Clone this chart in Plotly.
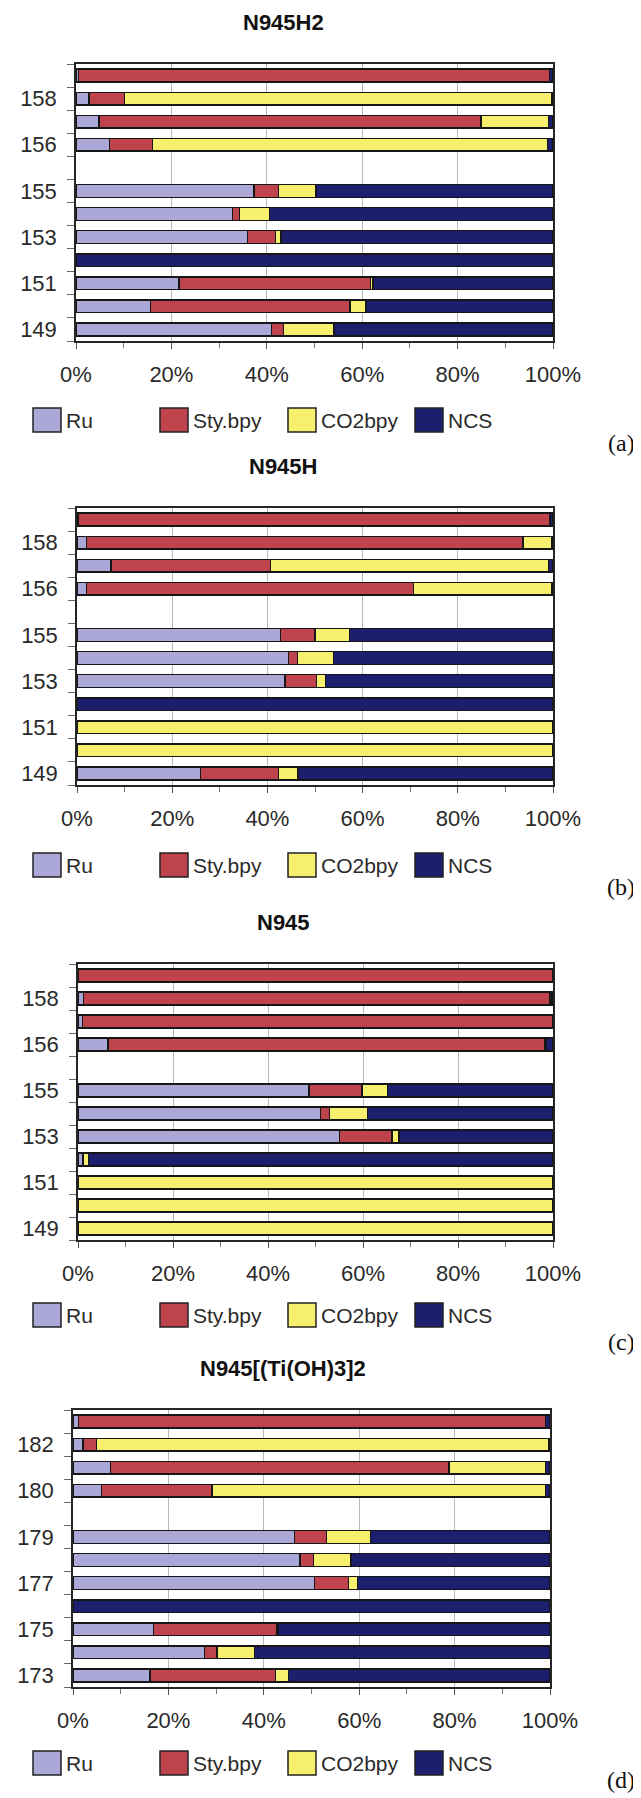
import plotly.graph_objects as go

W, H = 641, 1798
OFF = 8  # page body margin: the figure is drawn 8px right/down in the browser

series_names = ["Ru", "Sty.bpy", "CO2bpy", "NCS"]
series_colors = ["#ABA8D8", "#BE434C", "#F7F06E", "#1C1F6E"]

titles = ["N945H2", "N945H", "N945", "N945[(Ti(OH)3]2"]
panel_tags = ["(a)", "(b)", "(c)", "(d)"]

cats_abc = ["149", "150", "151", "152", "153", "154", "155", "", "156", "157", "158", "159"]
cats_d = ["173", "174", "175", "176", "177", "178", "179", "", "180", "181", "182", "183"]

# Panel (a) N945H2
a_ru = [41.0, 15.6, 21.6, 0, 35.9, 32.8, 37.3, None, 7.0, 4.8, 2.7, 0.5]
a_sty = [2.5, 41.8, 40.1, 0, 5.9, 1.5, 5.2, None, 9.0, 80.1, 7.5, 98.8]
a_co2 = [10.6, 3.4, 0.6, 0, 1.2, 6.3, 7.8, None, 82.8, 14.1, 89.5, 0]
a_ncs = [45.9, 39.2, 37.7, 100, 57.0, 59.4, 49.7, None, 1.2, 1.0, 0.3, 0.7]

# Panel (b) N945H
b_ru = [25.9, 0, 0, 0, 43.7, 44.4, 42.7, None, 2.0, 7.1, 2.0, 0.3]
b_sty = [16.4, 0, 0, 0, 6.6, 1.9, 7.3, None, 68.7, 33.6, 91.7, 99.1]
b_co2 = [4.1, 100, 100, 0, 1.9, 7.6, 7.2, None, 29.0, 58.3, 6.0, 0]
b_ncs = [53.6, 0, 0, 100, 47.8, 46.1, 42.8, None, 0.3, 1.0, 0.3, 0.6]

# Panel (c) N945
c_ru = [0, 0, 0, 0.9, 55.1, 51.0, 48.6, None, 6.3, 0.9, 1.2, 0]
c_sty = [0, 0, 0, 0.2, 11.0, 1.9, 11.2, None, 92.0, 99.1, 98.2, 100]
c_co2 = [100, 100, 100, 1.1, 1.5, 8.1, 5.4, None, 0.3, 0, 0.3, 0]
c_ncs = [0, 0, 0, 97.8, 32.4, 39.0, 34.8, None, 1.4, 0, 0.3, 0]

# Panel (d) N945[(Ti(OH)3]2
d_ru = [16.1, 27.6, 16.9, 0, 50.6, 47.6, 46.4, None, 6.0, 7.9, 2.1, 1.1]
d_sty = [26.3, 2.6, 25.8, 0, 7.2, 2.8, 6.7, None, 23.1, 70.9, 2.8, 98.0]
d_co2 = [2.8, 7.9, 0.3, 0, 1.8, 7.9, 9.3, None, 69.9, 20.2, 94.8, 0]
d_ncs = [54.8, 61.9, 57.0, 100, 40.4, 41.7, 37.6, None, 1.0, 1.0, 0.3, 0.9]

x_ticks = [0, 20, 40, 60, 80, 100]
x_tick_labels = ["0%", "20%", "40%", "60%", "80%", "100%"]

panels = [
    (cats_abc, [a_ru, a_sty, a_co2, a_ncs]),
    (cats_abc, [b_ru, b_sty, b_co2, b_ncs]),
    (cats_abc, [c_ru, c_sty, c_co2, c_ncs]),
    (cats_d, [d_ru, d_sty, d_co2, d_ncs]),
]

# layout geometry in screen pixels (left, right, top, bottom)
boxes = [(76, 553, 64, 341), (77, 553, 508, 785), (78, 553, 964, 1240), (73, 550, 1410, 1687)]
title_y = [23, 467, 922, 1368]
legend_y = [420, 865, 1315, 1763]
tag_y = [443, 887, 1342, 1780]
legend_x = [33, 160, 288, 415]

FONT = "Liberation Sans, Arial, sans-serif"


def px_x(v):
    return (v - OFF) / W


def px_y(v):
    return 1 - (v - OFF) / H


fig = go.Figure()
layout = dict(
    width=W, height=H, margin=dict(l=0, r=0, t=0, b=0, autoexpand=False),
    paper_bgcolor="white", plot_bgcolor="white",
    barmode="stack", barnorm="percent", bargap=0.45,
    showlegend=False, font=dict(family=FONT, color="#222", size=22),
)
annotations = []
shapes = []

for i, (cats, vals) in enumerate(panels):
    n = "" if i == 0 else str(i + 1)
    xa, ya = "x" + n, "y" + n
    idx = list(range(len(cats)))
    for name, col, v in zip(series_names, series_colors, vals):
        fig.add_trace(go.Bar(
            x=v, y=idx, orientation="h", name=name, xaxis=xa, yaxis=ya,
            marker=dict(color=col, line=dict(color="#161616", width=1.4)),
        ))
    l, r, t, b = boxes[i]
    layout["xaxis" + n] = dict(
        domain=[px_x(l), px_x(r)], anchor=ya, range=[0, 100], automargin=False,
        tickvals=x_ticks, ticktext=x_tick_labels, showgrid=True, gridcolor="#b8b8b8",
        gridwidth=1, showline=True, linecolor="#262626", linewidth=1.5, mirror=True,
        ticks="outside", ticklen=6, tickcolor="#555", zeroline=False,
        minor=dict(dtick=10, tick0=0, ticks="outside", ticklen=5, tickcolor="#777", showgrid=False),
        tickfont=dict(size=22, family=FONT, color="#2a2a2a"), ticklabelstandoff=7,
        fixedrange=True,
    )
    layout["yaxis" + n] = dict(
        domain=[px_y(b), px_y(t)], anchor=xa, range=[-0.5, len(cats) - 0.5], automargin=False,
        tickvals=idx[::2], ticktext=cats[::2], showgrid=False, zeroline=False,
        showline=True, linecolor="#262626", linewidth=1.5, mirror=True,
        ticks="", minor=dict(tick0=-0.5, dtick=1, ticks="outside", ticklen=7, tickcolor="#666"),
        tickfont=dict(size=22, family=FONT, color="#2a2a2a"), ticklabelstandoff=13,
        fixedrange=True,
    )
    annotations.append(dict(
        x=px_x(283), y=px_y(title_y[i]), xref="paper", yref="paper", text="<b>" + titles[i] + "</b>",
        showarrow=False, xanchor="center", yanchor="middle",
        font=dict(family=FONT, size=22, color="#111"),
    ))
    annotations.append(dict(
        x=px_x(637), y=px_y(tag_y[i]), xref="paper", yref="paper", text=panel_tags[i],
        showarrow=False, xanchor="right", yanchor="middle",
        font=dict(family="Liberation Serif, Times New Roman, serif", size=24, color="#111"),
    ))
    for j, (name, col) in enumerate(zip(series_names, series_colors)):
        x0 = legend_x[j]
        yc = legend_y[i]
        shapes.append(dict(
            type="rect", xref="paper", yref="paper",
            x0=px_x(x0), x1=px_x(x0 + 28), y0=px_y(yc + 12), y1=px_y(yc - 12),
            fillcolor=col, line=dict(color="#222", width=1.5),
        ))
        annotations.append(dict(
            x=px_x(x0 + 31), y=px_y(yc), xref="paper", yref="paper", text=name,
            showarrow=False, xanchor="left", yanchor="middle",
            font=dict(family=FONT, size=21, color="#2a2a2a"),
        ))

layout["annotations"] = annotations
layout["shapes"] = shapes
fig.update_layout(**layout)
fig.write_html("out.html")
